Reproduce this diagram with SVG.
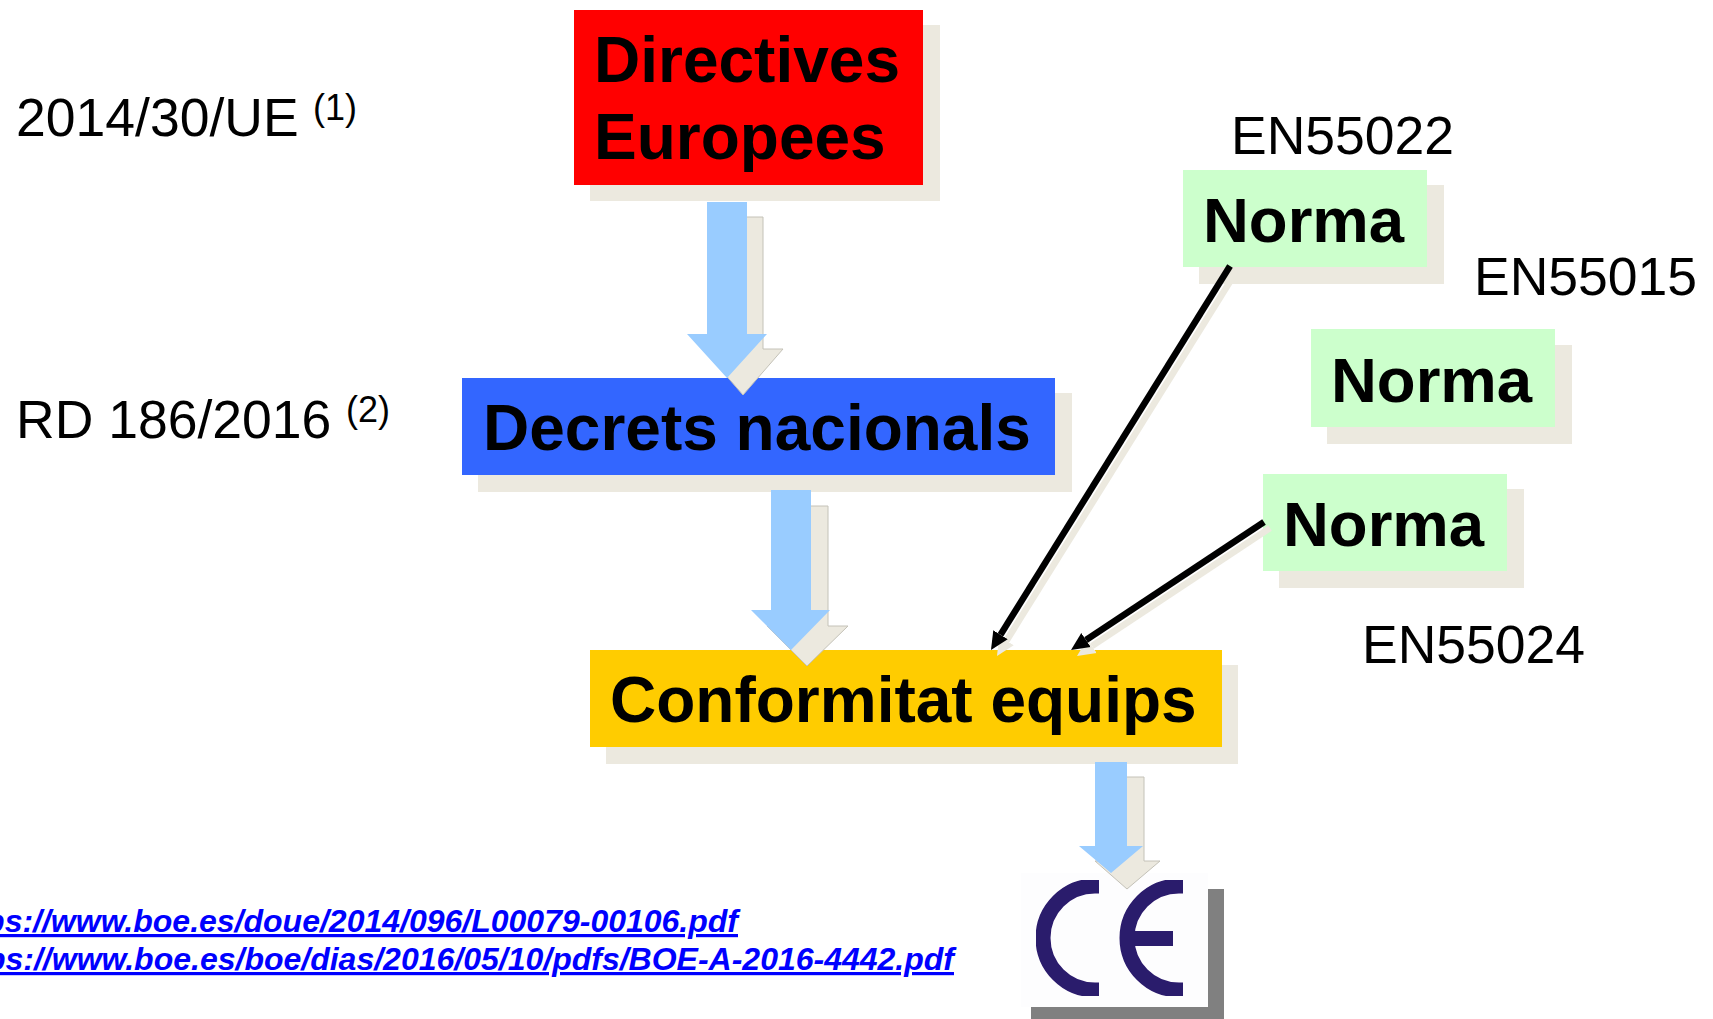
<svg xmlns="http://www.w3.org/2000/svg" width="1713" height="1019" viewBox="0 0 1713 1019">
<defs>
<style>
text{font-family:"Liberation Sans",Arial,sans-serif;fill:#000}
.t{font-size:64px;font-weight:bold}
.n{font-size:63.500px;font-weight:bold}
.l{font-size:53.500px}
.s{font-size:36px}
.u{font-size:32px;font-weight:bold;font-style:italic;fill:#00f;text-anchor:end;text-decoration:underline;text-decoration-thickness:4px;text-underline-offset:4px}
.sh{fill:#ECE9DF}
.ba{fill:#99CCFF}
.bs{fill:#ECE9DF;stroke:#C4C2B8;stroke-width:1}
.ln{fill:none;stroke:#000;stroke-width:6.500}
.lns{fill:none;stroke:#ECE9DF;stroke-width:6.500}
.ce{fill:none;stroke:#2A1A6C;stroke-width:15}
</style>
<filter id="soft" x="-5%" y="-5%" width="110%" height="110%"><feGaussianBlur stdDeviation="0.7"/></filter>
<marker id="hb" markerUnits="userSpaceOnUse" markerWidth="20" markerHeight="20" refX="0" refY="9" orient="auto"><path d="M0 0.5L18 9L0 17.5z" fill="#000"/></marker>
<marker id="hs" markerUnits="userSpaceOnUse" markerWidth="20" markerHeight="20" refX="0" refY="9" orient="auto"><path d="M0 0.5L18 9L0 17.5z" fill="#ECE9DF"/></marker>
</defs>
<rect width="1713" height="1019" fill="#fff"/>

<g id="label-directive"><text class="l" x="16" y="136">2014/30/UE</text><text class="s" x="313" y="120">(1)</text></g>
<g id="label-decret"><text class="l" x="16" y="438">RD 186/2016</text><text class="s" x="346" y="422">(2)</text></g>

<g id="node-directives">
<rect class="sh" x="590" y="25" width="350" height="176"/>
<rect x="574" y="10" width="349" height="175" fill="#F00"/>
<text class="t" x="594" y="82">Directives</text>
<text class="t" x="594" y="159">Europees</text>
</g>
<g id="node-decrets">
<rect class="sh" x="478" y="393" width="594" height="99"/>
<rect x="462" y="378" width="593" height="97" fill="#3366FF"/>
<text class="t" x="483" y="450">Decrets nacionals</text>
</g>
<g id="node-conformitat">
<rect class="sh" x="606" y="665" width="632" height="99"/>
<rect x="590" y="650" width="632" height="97" fill="#FFCC00"/>
<text class="t" x="610" y="722">Conformitat equips</text>
</g>
<g id="node-norma-1">
<rect class="sh" x="1199" y="185" width="245" height="99"/>
<rect x="1183" y="170" width="244" height="97" fill="#CCFFCC"/>
<text class="n" x="1203" y="242">Norma</text>
</g>
<g id="node-norma-2">
<rect class="sh" x="1327" y="345" width="245" height="99"/>
<rect x="1311" y="329" width="244" height="98" fill="#CCFFCC"/>
<text class="n" x="1331" y="402">Norma</text>
</g>
<g id="node-norma-3">
<rect class="sh" x="1279" y="489" width="245" height="99"/>
<rect x="1263" y="474" width="244" height="97" fill="#CCFFCC"/>
<text class="n" x="1283" y="546">Norma</text>
</g>
<g id="label-en55022"><text class="l" x="1231" y="154">EN55022</text></g>
<g id="label-en55015"><text class="l" x="1474" y="295">EN55015</text></g>
<g id="label-en55024"><text class="l" x="1362" y="663">EN55024</text></g>

<g id="node-ce">
<rect x="1031" y="889" width="193" height="130" fill="#808080"/>
<rect x="1021" y="873" width="187" height="134" fill="#FDFDFE"/>
<g filter="url(#soft)">
<path class="ce" d="M1099 886H1095A52 52 0 0 0 1095 990H1099"/>
<path class="ce" d="M1183 886H1179A52 52 0 0 0 1179 990H1183M1127 938.500H1173"/>
</g>
</g>

<g id="connectors">
<polygon class="bs" points="723,217 763,217 763,349 783,349 743,395 703,349 723,349"/>
<polygon class="ba" points="707,202 747,202 747,334 767,334 727,378 687,334 707,334"/>
<polygon class="bs" points="787,506 828,506 828,626 848,626 807,666 767,626 787,626"/>
<polygon class="ba" points="771,490 811,490 811,610 830,610 791,650 751,610 771,610"/>
<polygon class="bs" points="1111,777 1144,777 1144,861 1160,861 1127,889 1095,861 1111,861"/>
<polygon class="ba" points="1095,762 1127,762 1127,846 1143,846 1111,873 1079,846 1095,846"/>
<path class="lns" d="M1236 272L1006.500 640.700" marker-end="url(#hs)"/>
<path class="ln" d="M1230 266L1000.500 634.700" marker-end="url(#hb)"/>
<path class="lns" d="M1270 528L1092 646" marker-end="url(#hs)"/>
<path class="ln" d="M1264 522L1086 640" marker-end="url(#hb)"/>
</g>

<g id="links">
<text class="u" x="738" y="932">https://www.boe.es/doue/2014/096/L00079-00106.pdf</text>
<text class="u" x="954" y="970">https://www.boe.es/boe/dias/2016/05/10/pdfs/BOE-A-2016-4442.pdf</text>
</g>
</svg>
